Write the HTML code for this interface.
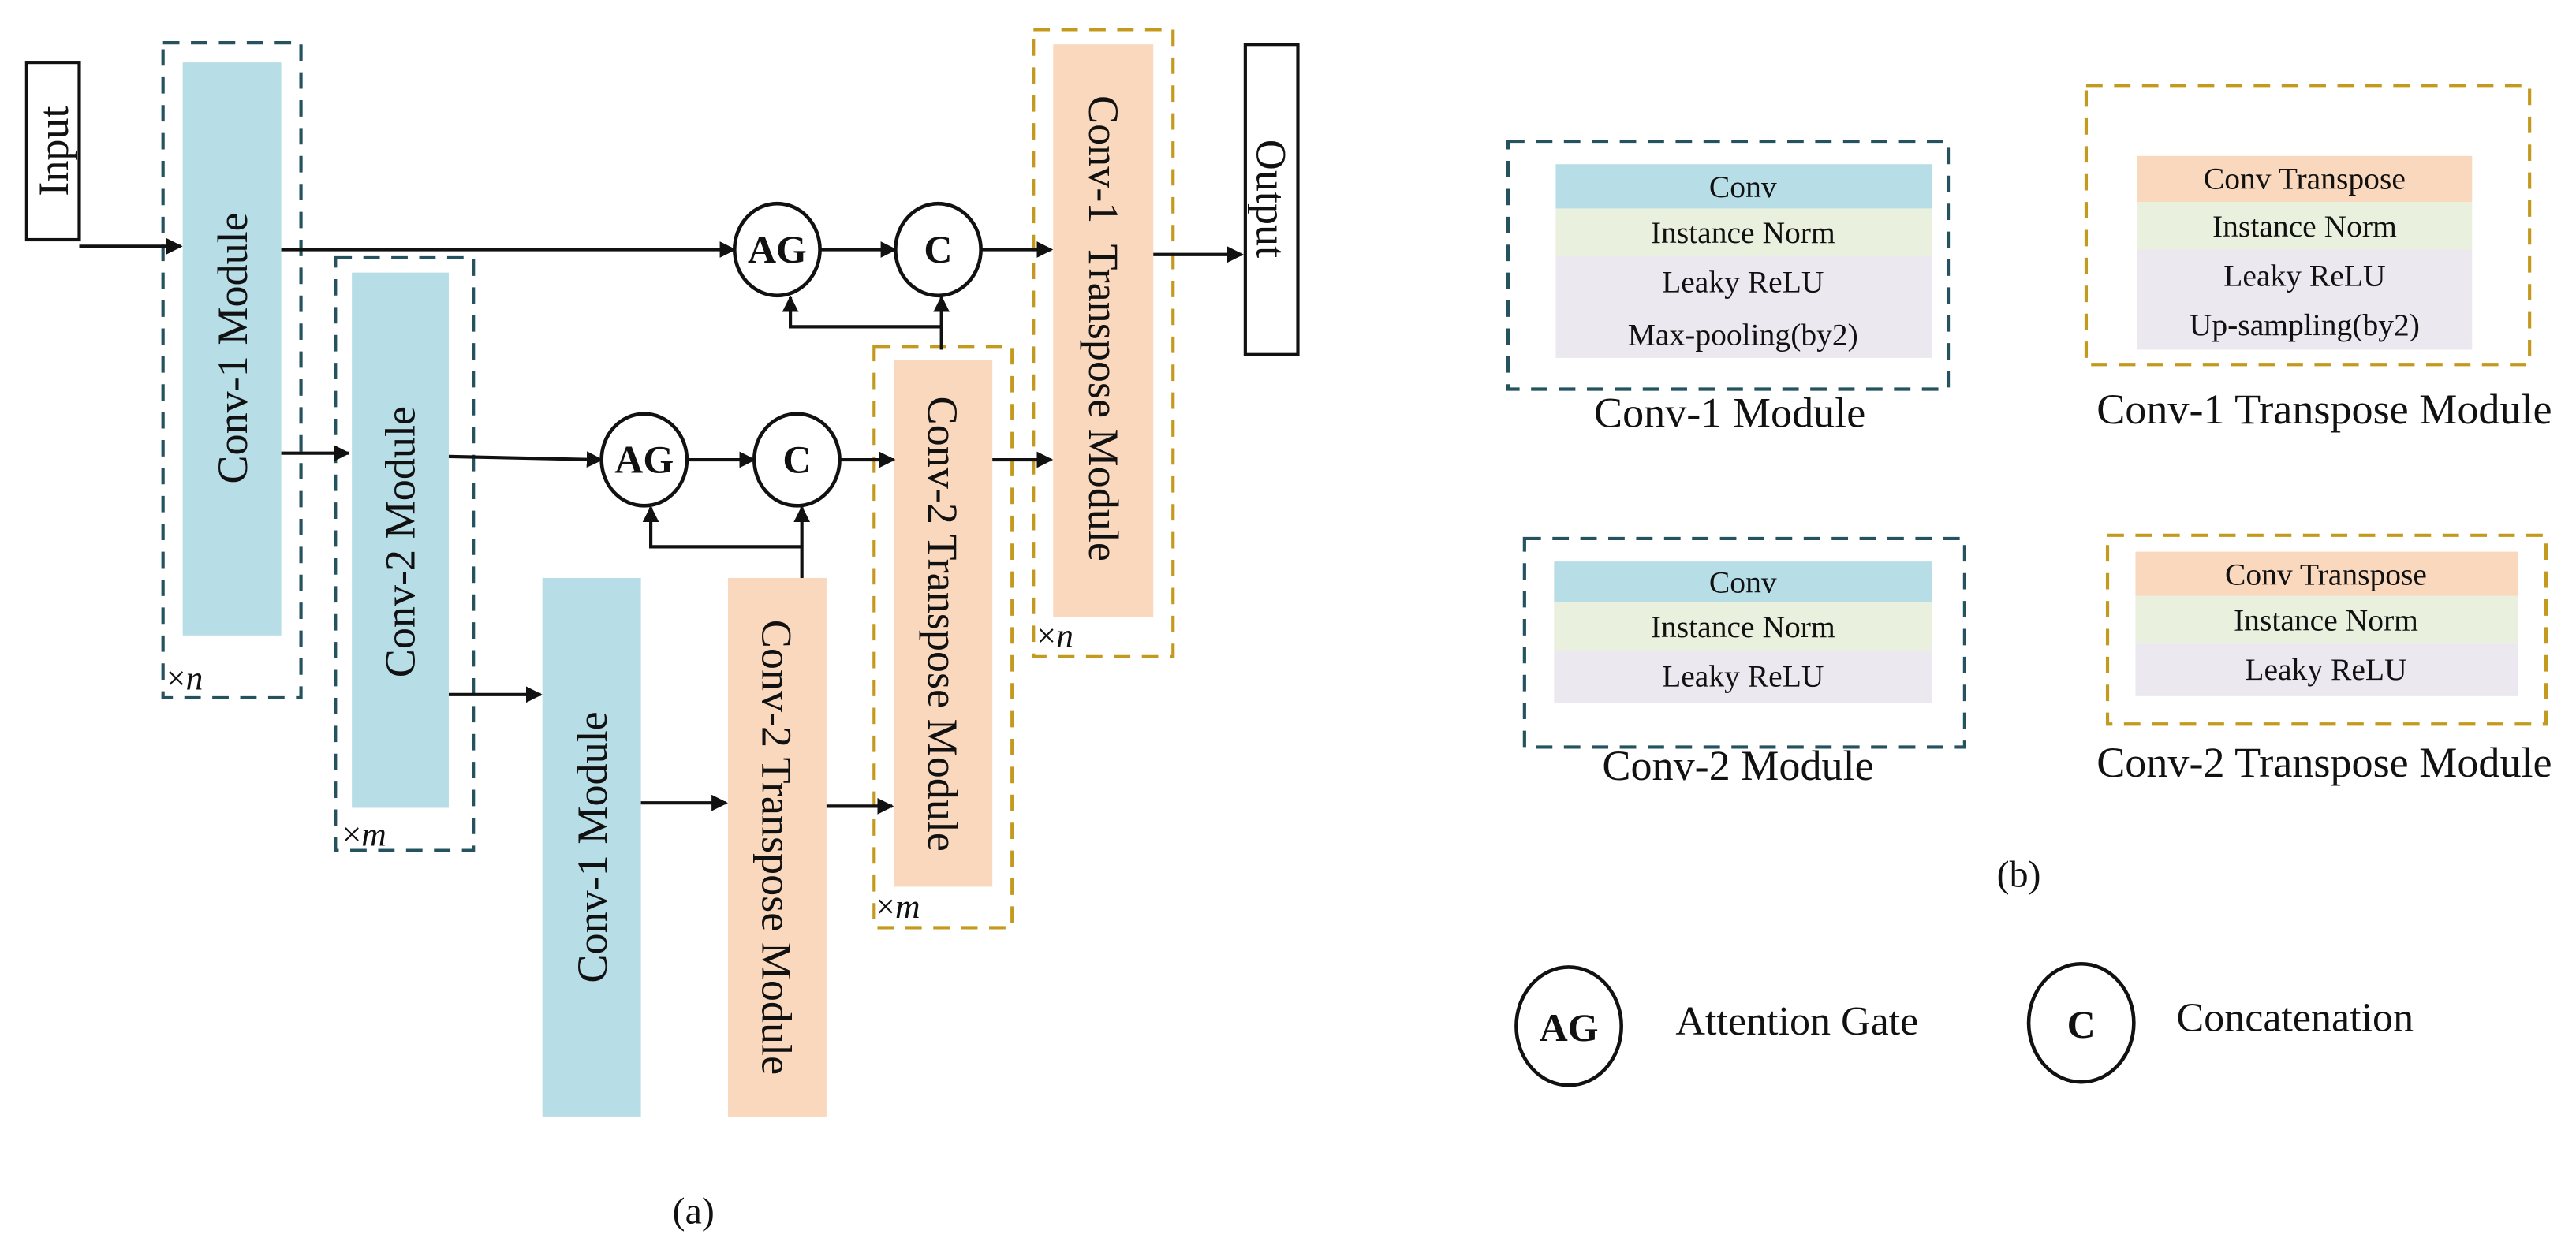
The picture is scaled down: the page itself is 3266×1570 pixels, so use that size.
<!DOCTYPE html>
<html><head><meta charset="utf-8"><style>
html,body{margin:0;padding:0;background:#fff;}
svg{display:block;}
text{font-family:"Liberation Serif",serif;fill:#111;}
</style></head><body>
<svg width="3266" height="1570" viewBox="0 0 1568 754" xmlns="http://www.w3.org/2000/svg" font-family="Liberation Serif, serif">
<defs>
<marker id="a" markerWidth="10" markerHeight="10" refX="9" refY="5" orient="auto" markerUnits="userSpaceOnUse">
<path d="M0,0 L10,5 L0,10 z" fill="#111"/></marker>
</defs>
<g stroke="#111" stroke-width="2" fill="none">
<rect x="16" y="38" width="32" height="108" fill="#fff"/>
<rect x="758" y="27" width="32" height="189" fill="#fff"/>
</g>
<g fill="none" stroke-width="2" stroke-dasharray="10,7">
<rect x="99" y="26" width="84" height="399" stroke="#24535f"/>
<rect x="204" y="157" width="84" height="361" stroke="#24535f"/>
<rect x="629" y="18" width="85" height="382" stroke="#c49a1e"/>
<rect x="532" y="211" width="84" height="354" stroke="#c49a1e"/>
</g>
<rect x="111" y="38" width="60" height="349" fill="#b7dde6"/>
<rect x="214" y="166" width="59" height="326" fill="#b7dde6"/>
<rect x="330" y="352" width="60" height="328" fill="#b7dde6"/>
<rect x="443" y="352" width="60" height="328" fill="#f9d8bd"/>
<rect x="544" y="219" width="60" height="321" fill="#f9d8bd"/>
<rect x="641" y="27" width="61" height="349" fill="#f9d8bd"/>
<g font-size="26" text-anchor="middle">
<text transform="translate(32,92) rotate(-90)" dy="9">Input</text>
<text transform="translate(774,121) rotate(90)" dy="9">Output</text>
<text transform="translate(141,212) rotate(-90)" dy="9">Conv-1 Module</text>
<text transform="translate(243,330) rotate(-90)" dy="9">Conv-2 Module</text>
<text transform="translate(360,516) rotate(-90)" dy="9">Conv-1 Module</text>
<text transform="translate(473,516) rotate(90)" dy="9">Conv-2 Transpose Module</text>
<text transform="translate(574,380) rotate(90)" dy="9">Conv-2 Transpose Module</text>
<text transform="translate(672,200) rotate(90)" dy="9" xml:space="preserve">Conv-1  Transpose Module</text>
</g>
<g font-size="21">
<text x="101" y="420">×<tspan font-style="italic">n</tspan></text>
<text x="208" y="515">×<tspan font-style="italic">m</tspan></text>
<text x="533" y="559">×<tspan font-style="italic">m</tspan></text>
<text x="631" y="394">×<tspan font-style="italic">n</tspan></text>
</g>
<g stroke="#111" stroke-width="2" fill="none" marker-end="url(#a)">
<line x1="48" y1="150" x2="110" y2="150"/>
<line x1="171" y1="152" x2="447" y2="152"/>
<line x1="499" y1="152" x2="545" y2="152"/>
<line x1="597" y1="152" x2="640" y2="152"/>
<line x1="702" y1="155" x2="756" y2="155"/>
<line x1="171" y1="276" x2="212" y2="276"/>
<line x1="273" y1="278" x2="366" y2="280"/>
<line x1="418" y1="280" x2="459" y2="280"/>
<line x1="511" y1="280" x2="544" y2="280"/>
<line x1="604" y1="280" x2="640" y2="280"/>
<line x1="273" y1="423" x2="329" y2="423"/>
<line x1="390" y1="489" x2="442" y2="489"/>
<line x1="503" y1="491" x2="543" y2="491"/>
<line x1="573" y1="213" x2="573" y2="181"/>
<polyline points="573,199 481,199 481,181"/>
<line x1="488" y1="352" x2="488" y2="309"/>
<polyline points="488,333 396,333 396,309"/>
</g>
<g stroke="#111" stroke-width="2.2" fill="#fff">
<ellipse cx="473" cy="152" rx="26" ry="28"/>
<ellipse cx="571" cy="152" rx="26" ry="28"/>
<ellipse cx="392" cy="280" rx="26" ry="28"/>
<ellipse cx="485" cy="280" rx="26" ry="28"/>
<ellipse cx="955" cy="625" rx="32" ry="36"/>
<ellipse cx="1267" cy="623" rx="32" ry="36"/>
</g>
<g font-size="24" font-weight="bold" text-anchor="middle">
<text x="473" y="160">AG</text>
<text x="571" y="160">C</text>
<text x="392" y="288">AG</text>
<text x="485" y="288">C</text>
<text x="955" y="634">AG</text>
<text x="1267" y="632">C</text>
</g>
<g font-size="25">
<text x="1020" y="630">Attention Gate</text>
<text x="1325" y="628">Concatenation</text>
<text x="422" y="745" text-anchor="middle" font-size="23">(a)</text>
<text x="1229" y="540" text-anchor="middle" font-size="23">(b)</text>
</g>
<g fill="none" stroke-width="2" stroke-dasharray="10,7">
<rect x="918" y="86" width="268" height="151" stroke="#24535f"/>
<rect x="928" y="328" width="268" height="127" stroke="#24535f"/>
<rect x="1270" y="52" width="270" height="170" stroke="#c49a1e"/>
<rect x="1283" y="326" width="267" height="115" stroke="#c49a1e"/>
</g>
<rect x="947" y="100" width="229" height="27" fill="#b7dde6"/>
<rect x="947" y="127" width="229" height="29" fill="#e9f0de"/>
<rect x="947" y="156" width="229" height="62" fill="#ebe8f0"/>
<rect x="1301" y="95" width="204" height="28" fill="#f9d8bd"/>
<rect x="1301" y="123" width="204" height="29" fill="#e9f0de"/>
<rect x="1301" y="152" width="204" height="61" fill="#ebe8f0"/>
<rect x="946" y="342" width="230" height="25" fill="#b7dde6"/>
<rect x="946" y="367" width="230" height="29" fill="#e9f0de"/>
<rect x="946" y="396" width="230" height="32" fill="#ebe8f0"/>
<rect x="1300" y="336" width="233" height="27" fill="#f9d8bd"/>
<rect x="1300" y="363" width="233" height="29" fill="#e9f0de"/>
<rect x="1300" y="392" width="233" height="32" fill="#ebe8f0"/>
<g font-size="19" text-anchor="middle">
<text x="1061" y="120">Conv</text>
<text x="1061" y="148">Instance Norm</text>
<text x="1061" y="178">Leaky ReLU</text>
<text x="1061" y="210">Max-pooling(by2)</text>
<text x="1403" y="115">Conv Transpose</text>
<text x="1403" y="144">Instance Norm</text>
<text x="1403" y="174">Leaky ReLU</text>
<text x="1403" y="204">Up-sampling(by2)</text>
<text x="1061" y="361">Conv</text>
<text x="1061" y="388">Instance Norm</text>
<text x="1061" y="418">Leaky ReLU</text>
<text x="1416" y="356">Conv Transpose</text>
<text x="1416" y="384">Instance Norm</text>
<text x="1416" y="414">Leaky ReLU</text>
</g>
<g font-size="26" text-anchor="middle">
<text x="1053" y="260">Conv-1 Module</text>
<text x="1415" y="258">Conv-1 Transpose Module</text>
<text x="1058" y="475">Conv-2 Module</text>
<text x="1415" y="473">Conv-2 Transpose Module</text>
</g>
</svg>
</body></html>
